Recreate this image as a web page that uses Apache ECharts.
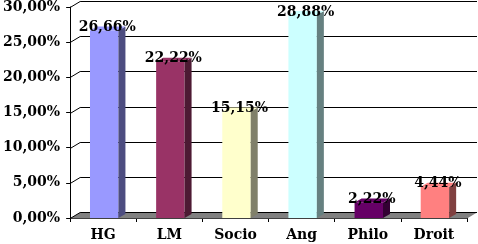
<!DOCTYPE html>
<html><head><meta charset="utf-8">
<script src="https://cdn.jsdelivr.net/npm/echarts@6/dist/echarts.min.js"></script>
<style>html,body{margin:0;padding:0;background:#fff}#c{width:478px;height:244px}</style>
</head><body><div id="c"></div>
<script>
const categories = ['HG', 'LM', 'Socio', 'Ang', 'Philo', 'Droit'];
const values = [26.66, 22.22, 15.15, 28.88, 2.22, 4.44];
const frontColors = ['#9999FF', '#993366', '#FFFFCC', '#CCFFFF', '#660066', '#FF8080'];
const sideColors = ['#4D4D80', '#4D1A33', '#80806A', '#668080', '#330033', '#804040'];
const yTicks = [0, 5, 10, 15, 20, 25, 30];

const FONT = 'bold 14px "DejaVu Serif"';
const WDX = 10, WDY = 6;   // wall depth
const BDX = 7, BDY = 4;    // bar depth
function fmt(v) { return v.toFixed(2).replace('.', ',') + '%'; }

const chart = echarts.init(document.getElementById('c'));
chart.setOption({
  animation: false,
  backgroundColor: '#fff',
  grid: { left: 67, right: 11, top: 6, bottom: 26, containLabel: false },
  xAxis: {
    type: 'category', data: categories,
    axisLine: { lineStyle: { color: '#000', width: 1 } },
    axisTick: { show: true, length: 4, lineStyle: { color: '#000' } },
    axisLabel: { color: '#000', fontFamily: 'DejaVu Serif', fontWeight: 'bold', fontSize: 14, margin: 10 },
    splitLine: { show: false }
  },
  yAxis: {
    type: 'value', min: 0, max: 30, interval: 5,
    axisLine: { show: true, lineStyle: { color: '#000', width: 1 } },
    axisTick: { show: true, length: 4, lineStyle: { color: '#000' } },
    axisLabel: { color: '#000', fontFamily: 'DejaVu Serif', fontWeight: 'bold', fontSize: 14, margin: 10, formatter: fmt },
    splitLine: { show: false }
  },
  series: [
    {
      type: 'custom', z: 1, silent: true,
      data: yTicks.map(v => [0, v]),
      encode: { x: 0, y: 1 },
      renderItem: function (params, api) {
        const cs = params.coordSys;
        const v = api.value(1);
        const y = Math.round(api.coord([0, v])[1]) + 0.5;
        const x0 = cs.x, x1 = cs.x + cs.width;
        const children = [];
        if (v === 0) {
          children.push({ type: 'polygon', shape: { points: [[x0, y], [x0 + WDX, y - WDY], [x1 + WDX, y - WDY], [x1, y]] }, style: { fill: '#808080' } });
        }
        children.push({ type: 'polyline', shape: { points: [[x0, y], [x0 + WDX, y - WDY], [x1 + WDX, y - WDY]] }, style: { stroke: '#000', lineWidth: 1, fill: null } });
        return { type: 'group', children: children };
      }
    },
    {
      type: 'custom', z: 5, silent: true,
      data: values.map((v, i) => [i, v]),
      encode: { x: 0, y: 1 },
      renderItem: function (params, api) {
        const i = api.value(0), v = api.value(1);
        const top = api.coord([i, v]);
        const base = api.coord([i, 0]);
        const band = api.size([1, 0])[0];
        const w = band * 0.43;
        const cx = top[0] + 1;
        const xl = cx - w / 2, xr = cx + w / 2;
        const yt = top[1], yb = base[1];
        return {
          type: 'group',
          children: [
            { type: 'rect', shape: { x: xl, y: yt, width: w, height: yb - yt }, style: { fill: frontColors[i] } },
            { type: 'polygon', shape: { points: [[xr, yt], [xr + BDX, yt - BDY], [xr + BDX, yb - BDY], [xr, yb]] }, style: { fill: sideColors[i] } },
            { type: 'polygon', shape: { points: [[xl, yt], [xl + BDX, yt - BDY], [xr + BDX, yt - BDY], [xr, yt]] }, style: { fill: frontColors[i] } },
            { type: 'text', x: cx + 3, y: yt - 3, style: { text: fmt(v), font: FONT, fill: '#000', align: 'center', verticalAlign: 'middle' } }
          ]
        };
      }
    }
  ]
});
</script>
</body></html>
